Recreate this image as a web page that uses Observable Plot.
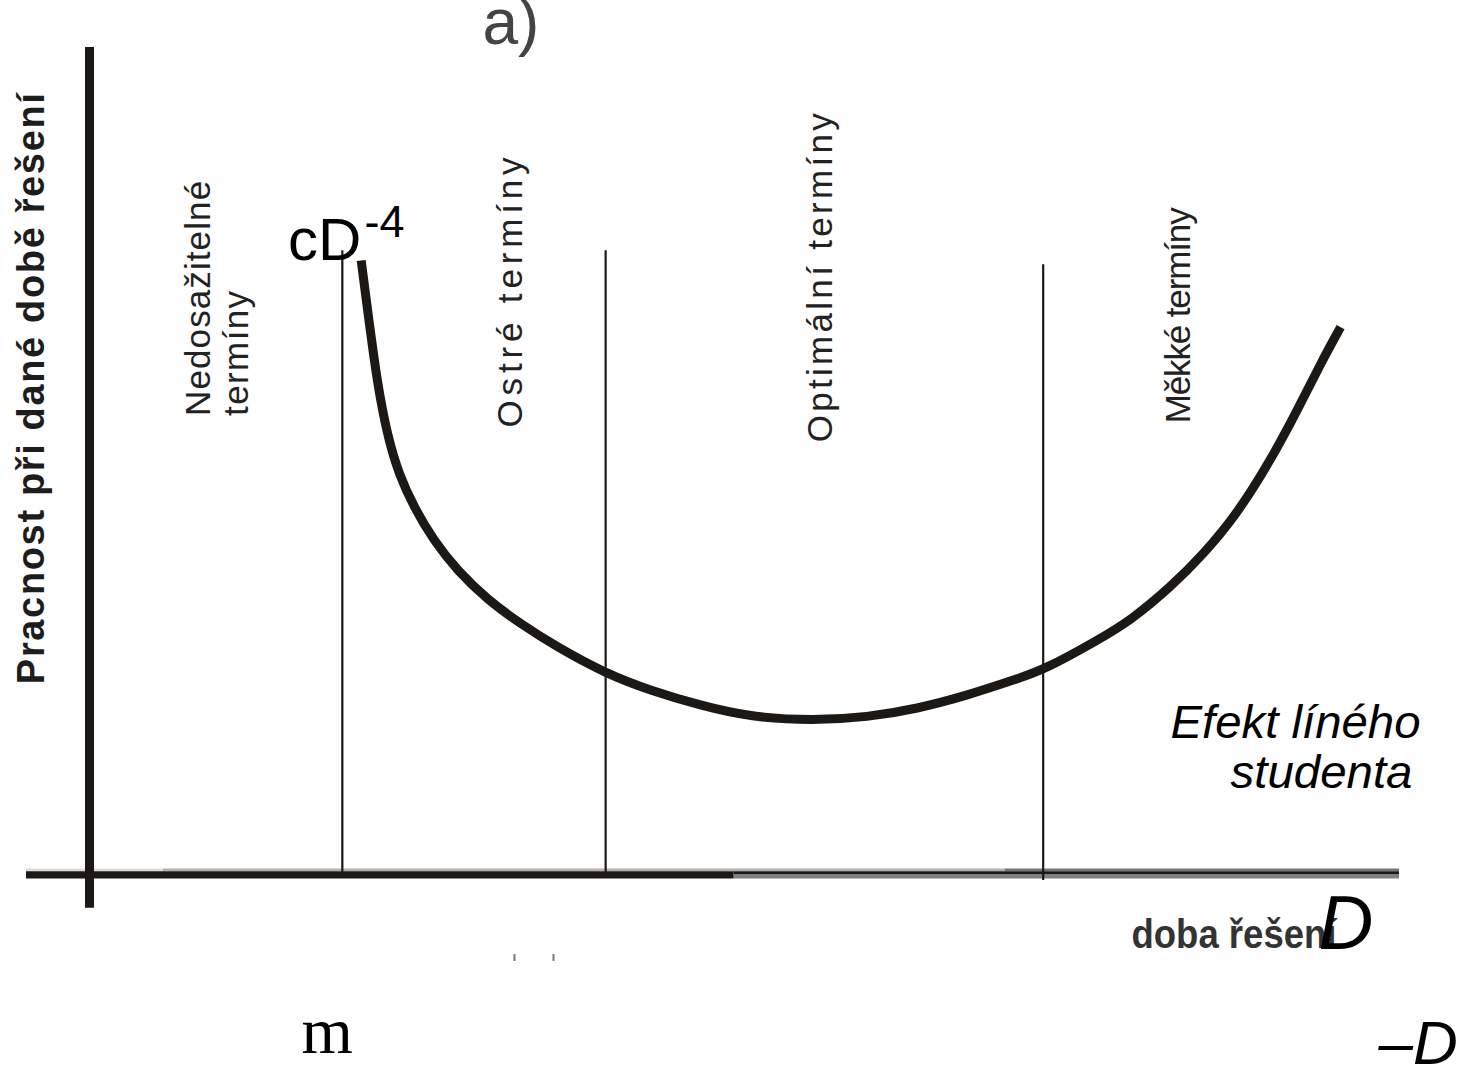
<!DOCTYPE html>
<html><head><meta charset="utf-8">
<script src="https://cdn.jsdelivr.net/npm/d3@7"></script>
<script src="https://cdn.jsdelivr.net/npm/@observablehq/plot@0.6"></script>
<style>html,body{margin:0;padding:0;background:#fff;overflow:hidden}</style>
</head><body><div id="chart"></div>
<script>
// Curve: effort (Pracnost) vs. solution time D (arbitrary units)
const durationD = [20.74, 21.20, 21.70, 22.21, 22.85, 23.61, 24.76, 26.28, 28.07, 30.36, 32.90, 35.70, 39.44, 42.82, 46.64, 50.46, 55.29, 59.37, 63.18, 67.00, 70.82, 72.85, 76.92, 79.47, 82.52, 85.06, 87.61, 90.15, 92.19, 93.97, 95.50];
const effort    = [74.21, 68.56, 62.51, 57.26, 52.42, 48.39, 44.35, 40.31, 36.68, 33.17, 30.23, 27.40, 24.18, 22.15, 20.34, 18.92, 18.52, 18.92, 19.94, 21.55, 23.57, 24.66, 28.21, 30.63, 34.66, 38.70, 43.55, 50.00, 56.05, 61.71, 66.14];

// Zone boundaries
const boundaryD = [19.3, 39.4, 72.8];
const boundaryTop = [75.4, 75.4, 73.7];
const boundaryBottom = [0, 0, -0.85];

// Zone labels
const zoneLabels = ["Nedosažitelné", "termíny", "Ostré termíny", "Optimální termíny", "Měkké termíny"];
const zoneLabelD = [9.2, 12.1, 33.0, 56.7, 84.0];
const zoneLabelEffort = [55.4, 55.4, 54.0, 52.2, 54.5];

const yLabel = "Pracnost při dané době řešení";
const xLabel = "doba řešení";
const panelLabel = "a)";
const curveLabel = "cD";
const curveExp = "-4";
const lazyLabel = ["Efekt líného", "studenta"];

const curve = durationD.map((d, i) => ({d, e: effort[i]}));
const bounds = boundaryD.map((d, i) => ({d, top: boundaryTop[i], bottom: boundaryBottom[i]}));
const zones = zoneLabels.map((t, i) => ({t, d: zoneLabelD[i], e: zoneLabelEffort[i]}));

const ink = "#1b1815";
const font = "Liberation Sans, Arial, sans-serif";

const txt = (s, x, y, o = {}) => Plot.text([s], {x: () => x, y: () => y, text: d => d, lineAnchor: "bottom", textAnchor: "start", fill: ink, fontFamily: font, ...o});

const svg = Plot.plot({
  width: 1466, height: 1066,
  marginLeft: 89, marginRight: 67, marginTop: 47, marginBottom: 193,
  x: {domain: [0, 100], axis: null},
  y: {domain: [0, 100], axis: null},
  style: {fontFamily: font, background: "#fff", overflow: "visible"},
  marks: [
    // x axis layers
    Plot.ruleY([0.448], {x1: -4.81, x2: 5.65, stroke: "#dcdcdc", strokeWidth: 2.7}),
    Plot.ruleY([0.448], {x1: 5.65, x2: 69.9, stroke: "#b0b0b0", strokeWidth: 2.7}),
    Plot.ruleY([0.448], {x1: 69.9, x2: 100, stroke: "#767676", strokeWidth: 2.7}),
    Plot.ruleY([-0.345], {x1: 49.2, x2: 100, stroke: "#808080", strokeWidth: 4.3}),
    Plot.ruleY([0.097], {x1: 49.2, x2: 100, stroke: ink, strokeWidth: 3}),
    Plot.ruleY([-0.16], {x1: -4.81, x2: 49.2, stroke: ink, strokeWidth: 7.3}),
    // y axis
    Plot.ruleX([0], {y1: -4.2, y2: 100, stroke: ink, strokeWidth: 9}),
    // zone boundaries
    Plot.ruleX(bounds, {x: "d", y1: "bottom", y2: "top", stroke: ink, strokeWidth: 2.2}),
    // curve
    Plot.line(curve, {x: "d", y: "e", curve: "basis", stroke: ink, strokeWidth: 9, strokeLinecap: "butt"}),
    // zone labels
    Plot.text(zones, {x: "d", y: "e", text: "t", rotate: -90, textAnchor: "start", lineAnchor: "bottom", fontSize: 35, fill: "#222", fontFamily: font}),
    // y label
    Plot.text([yLabel], {x: () => -3.5, y: () => 58.7, text: d => d, rotate: -90, textAnchor: "middle", lineAnchor: "bottom", fontSize: 38, fontWeight: "bold", fill: "#1d1d1d", fontFamily: font}),
    // other annotations
    txt(panelLabel, 30.0, 100.4, {fontSize: 64, fill: "#444"}),
    txt(curveLabel, 20.76, 74.33, {fontSize: 60, textAnchor: "end", fill: "#000"}),
    txt(curveExp, 20.99, 77.0, {fontSize: 45, fill: "#000"}),
    txt(xLabel, 79.54, -8.96, {fontSize: 40, fontWeight: "bold", fill: "#333"}),
    txt("D", 93.82, -9.08, {fontSize: 76, fontStyle: "italic", fill: "#000"}),
    txt("m", 16.18, -21.79, {fontSize: 66, fontFamily: "Liberation Serif, Times New Roman, serif", fill: "#000"}),
    txt("–D", 98.4, -23.12, {fontSize: 62, fontStyle: "italic", fill: "#000"}),
    txt(lazyLabel[0], 82.52, 16.46, {fontSize: 46, fontStyle: "italic", fill: "#000"}),
    txt(lazyLabel[1], 87.1, 10.41, {fontSize: 46, fontStyle: "italic", fill: "#000"}),
    // scan artefacts below axis
    Plot.ruleX([32.44, 35.42], {y1: -9.8, y2: -10.65, stroke: "#777", strokeWidth: 2})
  ]
});

const textLengths = {
  "Nedosažitelné": [235, "spacing"], "termíny": [125, "spacing"], "Ostré termíny": [270, "spacing"],
  "Optimální termíny": [329, "spacing"], "Měkké termíny": [216, "spacing"], [yLabel]: [591, "spacing"],
  [xLabel]: [205, "spacingAndGlyphs"], "Efekt líného": [250, "spacingAndGlyphs"], "studenta": [182, "spacingAndGlyphs"]
};
d3.select(svg).selectAll("text").each(function() {
  const spec = textLengths[this.textContent];
  if (spec) { this.setAttribute("textLength", spec[0]); this.setAttribute("lengthAdjust", spec[1]); }
});
document.getElementById("chart").appendChild(svg);
</script>
</body></html>
